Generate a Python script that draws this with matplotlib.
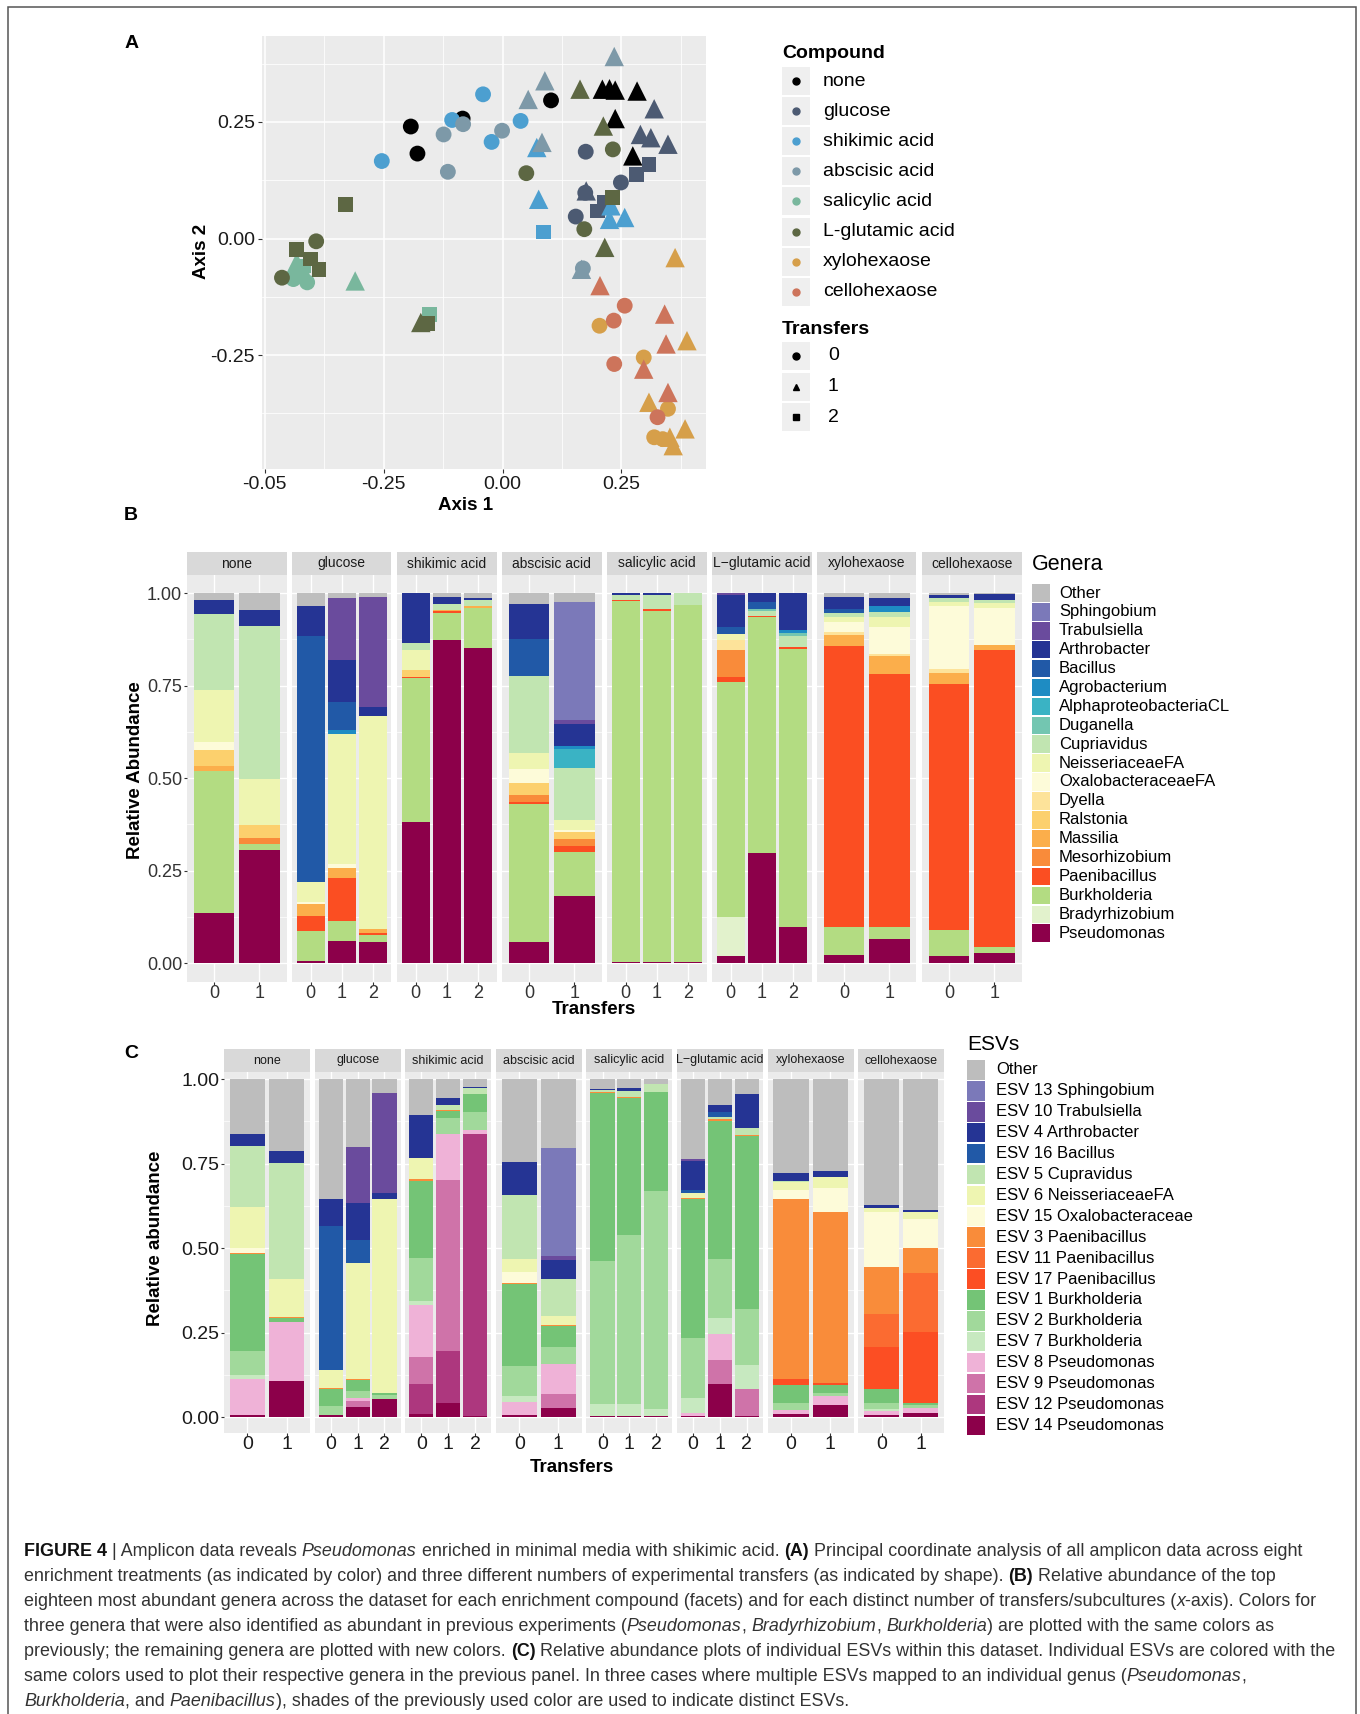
import matplotlib.pyplot as plt
from matplotlib.lines import Line2D
from matplotlib.patches import Rectangle

plt.rcParams["font.family"] = ["Liberation Sans", "DejaVu Sans"]

W, H = 1360, 1714
PANEL_BG = "#ebebeb"
STRIP_BG = "#d9d9d9"

COMPOUNDS = ["none", "glucose", "shikimic acid", "abscisic acid",
             "salicylic acid", "L-glutamic acid", "xylohexaose", "cellohexaose"]
STRIP_NAMES = ["none", "glucose", "shikimic acid", "abscisic acid",
               "salicylic acid", "L\u2212glutamic acid", "xylohexaose", "cellohexaose"]
COMPOUND_COLORS = ["#000000", "#4c5a72", "#4c9fd0", "#7d99a8",
                   "#79b79d", "#5d6743", "#d69f4a", "#cd745b"]
TRANSFER_LEVELS = ["0", "1", "2"]

# ---- panel A: PCoA points (axis 1, axis 2, transfers)
PCOA_NONE = [(0.102, 0.296, 0), (-0.193, 0.240, 0), (-0.179, 0.182, 0), (-0.084, 0.257, 0),
             (0.210, 0.320, 1), (0.225, 0.321, 1), (0.237, 0.318, 1), (0.283, 0.316, 1),
             (0.237, 0.257, 1), (0.274, 0.177, 1)]
PCOA_GLUCOSE = [(0.175, 0.186, 0), (0.249, 0.120, 0), (0.154, 0.047, 0), (0.174, 0.098, 0),
                (0.319, 0.278, 1), (0.290, 0.223, 1), (0.312, 0.216, 1), (0.348, 0.202, 1),
                (0.176, 0.102, 1), (0.281, 0.138, 2), (0.308, 0.159, 2), (0.199, 0.059, 2),
                (0.214, 0.077, 2)]
PCOA_SHIKIMIC = [(-0.041, 0.309, 0), (-0.106, 0.254, 0), (-0.023, 0.207, 0), (-0.254, 0.166, 0),
                 (0.038, 0.252, 0), (0.072, 0.195, 1), (0.076, 0.084, 1), (0.228, 0.070, 1),
                 (0.225, 0.041, 1), (0.257, 0.045, 1), (0.086, 0.014, 2)]
PCOA_ABSCISIC = [(-0.124, 0.223, 0), (-0.001, 0.231, 0), (-0.115, 0.143, 0), (-0.083, 0.245, 0),
                 (0.169, -0.064, 0), (0.235, 0.390, 1), (0.089, 0.338, 1), (0.054, 0.298, 1),
                 (0.083, 0.206, 1), (0.166, -0.066, 1)]
PCOA_SALICYLIC = [(-0.440, -0.087, 0), (-0.411, -0.094, 0), (-0.422, -0.080, 0),
                  (-0.433, -0.051, 1), (-0.444, -0.076, 1), (-0.310, -0.091, 1),
                  (-0.153, -0.162, 2), (-0.419, -0.059, 2)]
PCOA_GLUTAMIC = [(0.232, 0.191, 0), (0.050, 0.140, 0), (0.172, 0.020, 0), (-0.392, -0.006, 0),
                 (-0.464, -0.084, 0), (0.163, 0.320, 1), (0.212, 0.241, 1), (0.215, -0.019, 1),
                 (-0.172, -0.180, 1), (-0.331, 0.072, 2), (0.232, 0.088, 2), (-0.433, -0.023, 2),
                 (-0.386, -0.066, 2), (-0.404, -0.044, 2), (-0.158, -0.183, 2)]
PCOA_XYLO = [(0.204, -0.187, 0), (0.297, -0.255, 0), (0.348, -0.365, 0), (0.319, -0.426, 0),
             (0.337, -0.430, 0), (0.363, -0.041, 1), (0.388, -0.219, 1), (0.308, -0.351, 1),
             (0.384, -0.408, 1), (0.359, -0.444, 1), (0.352, -0.426, 1)]
PCOA_CELLO = [(0.257, -0.144, 0), (0.234, -0.176, 0), (0.235, -0.269, 0), (0.326, -0.383, 0),
              (0.205, -0.101, 1), (0.341, -0.162, 1), (0.344, -0.226, 1), (0.297, -0.280, 1),
              (0.348, -0.330, 1)]
PCOA = [PCOA_NONE, PCOA_GLUCOSE, PCOA_SHIKIMIC, PCOA_ABSCISIC,
        PCOA_SALICYLIC, PCOA_GLUTAMIC, PCOA_XYLO, PCOA_CELLO]

# ---- panel B: genera, stacked bottom -> top
GENERA = ["Pseudomonas", "Bradyrhizobium", "Burkholderia", "Paenibacillus", "Mesorhizobium",
          "Massilia", "Ralstonia", "Dyella", "OxalobacteraceaeFA", "NeisseriaceaeFA",
          "Cupriavidus", "Duganella", "AlphaproteobacteriaCL", "Agrobacterium", "Bacillus",
          "Arthrobacter", "Trabulsiella", "Sphingobium", "Other"]
GENUS_COLORS = ["#8c004a", "#e2f2cc", "#b3dc82", "#fb4e22", "#f98b3a",
                "#fbae4b", "#fcd06d", "#fde39a", "#fdfbd9", "#eef5b1",
                "#c1e5b1", "#73c6b1", "#3ab3c4", "#1e8cc3", "#2159a7",
                "#253494", "#6a4b9d", "#7b79b9", "#bebebe"]

# one row per transfer, values in GENERA order
GEN_NONE = [[.136, 0, .383, 0, 0, .015, .042, 0, .022, .140, .206, 0, 0, 0, 0, .038, 0, 0, .018],
            [.305, 0, .016, 0, .017, 0, .035, 0, 0, .126, .413, 0, 0, 0, 0, .043, 0, 0, .045]]
GEN_GLUCOSE = [[.005, 0, .083, .039, 0, .034, 0, 0, .004, .054, 0, 0, 0, 0, .664, .083, 0, 0, .034],
               [.060, 0, .053, .118, 0, .027, 0, 0, .011, .349, 0, 0, 0, .012, .075, .114, .167, 0, .014],
               [.057, 0, .018, .006, 0, .012, 0, 0, 0, .576, 0, 0, 0, 0, 0, .022, .298, 0, .011]]
GEN_SHIKIMIC = [[.382, 0, .388, .004, 0, 0, .018, 0, 0, .055, .019, 0, 0, 0, 0, .134, 0, 0, 0],
                [.872, 0, .074, .006, 0, .003, 0, 0, 0, 0, .015, 0, 0, 0, 0, .019, 0, 0, .011],
                [.851, 0, .110, 0, 0, .003, 0, 0, 0, 0, .018, 0, 0, 0, 0, .006, 0, 0, .012]]
GEN_ABSCISIC = [[.057, 0, .374, .005, .018, 0, .034, 0, .038, .041, .210, 0, 0, 0, .098, .096, 0, 0, .029],
                [.181, 0, .120, .016, .018, 0, .020, 0, .006, .025, .142, 0, .051, .009, 0, .057, .012, .320, .023]]
GEN_SALICYLIC = [[.002, 0, .977, .003, 0, 0, 0, 0, 0, 0, .013, 0, 0, 0, 0, .005, 0, 0, 0],
                 [.004, 0, .949, .004, 0, 0, 0, 0, 0, 0, .039, 0, 0, 0, 0, .004, 0, 0, 0],
                 [.002, 0, .966, 0, 0, 0, 0, 0, 0, 0, .032, 0, 0, 0, 0, 0, 0, 0, 0]]
GEN_GLUTAMIC = [[.018, .107, .636, .012, .074, 0, 0, .027, 0, .015, 0, 0, 0, 0, .019, .087, .005, 0, 0],
                [.299, 0, .636, .004, 0, 0, 0, 0, 0, 0, .012, .007, 0, 0, .017, .025, 0, 0, 0],
                [.099, 0, .750, .005, 0, 0, 0, 0, 0, 0, .029, .009, 0, .008, 0, .100, 0, 0, 0]]
GEN_XYLO = [[.023, 0, .076, .758, 0, .030, 0, .007, .027, .014, .011, 0, 0, 0, .012, .031, 0, 0, .011],
            [.066, 0, .033, .683, 0, .047, 0, .007, .072, .027, .015, 0, 0, .014, 0, .024, 0, 0, .012]]
GEN_CELLO = [[.018, 0, .072, .665, 0, .030, 0, .010, .169, .013, .009, 0, 0, 0, 0, .009, 0, 0, .005],
             [.028, 0, .015, .804, 0, .013, 0, 0, .099, .014, .009, 0, 0, 0, 0, .016, 0, 0, .002]]
GEN_ALL = [GEN_NONE, GEN_GLUCOSE, GEN_SHIKIMIC, GEN_ABSCISIC,
           GEN_SALICYLIC, GEN_GLUTAMIC, GEN_XYLO, GEN_CELLO]

# ---- panel C: ESVs, stacked bottom -> top
ESVS = ["ESV 14 Pseudomonas", "ESV 12 Pseudomonas", "ESV 9 Pseudomonas", "ESV 8 Pseudomonas",
        "ESV 7 Burkholderia", "ESV 2 Burkholderia", "ESV 1 Burkholderia",
        "ESV 17 Paenibacillus", "ESV 11 Paenibacillus", "ESV 3 Paenibacillus",
        "ESV 15 Oxalobacteraceae", "ESV 6 NeisseriaceaeFA", "ESV 5 Cupravidus",
        "ESV 16 Bacillus", "ESV 4 Arthrobacter", "ESV 10 Trabulsiella",
        "ESV 13 Sphingobium", "Other"]
ESV_COLORS = ["#8c004a", "#ad377e", "#cf73a9", "#efb2d7",
              "#c7e9c0", "#a1d99b", "#74c476",
              "#fc4e23", "#fb6b31", "#f98c3a",
              "#fdfbd9", "#eef5b1", "#c1e5b1",
              "#2159a7", "#253494", "#6a4b9d",
              "#7b79b9", "#bdbdbd"]

ESV_NONE = [[.005, 0, 0, .109, .010, .071, .289, 0, 0, .003, .014, .122, .180, 0, .034, 0, 0, .163],
            [.107, 0, 0, .173, 0, 0, .013, 0, 0, .004, 0, .113, .341, 0, .035, 0, 0, .214]]
ESV_GLUCOSE = [[.005, 0, 0, 0, 0, .028, .051, 0, 0, .003, 0, .051, 0, .428, .079, 0, 0, .355],
               [.030, 0, .017, .009, 0, .021, .032, 0, 0, .003, 0, .345, 0, .067, .108, .168, 0, .200],
               [.054, 0, 0, 0, 0, .010, .008, 0, 0, 0, 0, .572, 0, 0, .018, .298, 0, .040]]
ESV_SHIKIMIC = [[.008, .091, .079, .155, .011, .127, .229, 0, 0, .003, 0, .065, 0, 0, .126, 0, 0, .106],
                [.042, .153, .507, .135, 0, .047, .022, 0, 0, .003, 0, 0, .015, 0, .020, 0, 0, .056],
                [.002, .836, 0, .012, 0, .052, .055, 0, 0, 0, 0, 0, .016, 0, .005, 0, 0, .022]]
ESV_ABSCISIC = [[.005, 0, 0, .039, .017, .090, .244, 0, 0, .003, .032, .039, .188, 0, .099, 0, 0, .244],
                [.028, 0, .039, .091, 0, .048, .063, 0, 0, .003, 0, .026, .112, 0, .054, .013, .318, .205]]
ESV_SALICYLIC = [[.004, 0, 0, 0, .036, .422, .498, 0, 0, .003, 0, 0, .005, 0, .004, 0, 0, .028],
                 [.004, 0, 0, 0, .036, .499, .405, 0, 0, .003, 0, 0, .018, 0, .008, 0, 0, .027],
                 [.003, 0, 0, 0, .022, .645, .291, 0, 0, .002, 0, 0, .023, 0, 0, 0, 0, .014]]
ESV_GLUTAMIC = [[.003, 0, 0, .010, .043, .179, .410, 0, 0, .003, 0, .014, 0, .010, .086, .006, 0, .236],
                [.099, 0, .069, .079, .045, .177, .408, 0, 0, .004, 0, 0, .008, .013, .022, 0, 0, .076],
                [.003, 0, .081, 0, .069, .168, .512, 0, 0, .003, 0, 0, .019, 0, .100, 0, 0, .045]]
ESV_XYLO = [[.008, 0, 0, .012, 0, .022, .052, .020, 0, .530, .028, .025, .003, 0, .021, 0, 0, .279],
            [.035, 0, 0, .028, 0, .009, .023, .007, 0, .505, .071, .031, 0, 0, .020, 0, 0, .271]]
ESV_CELLO = [[.005, 0, 0, .012, .008, .017, .042, .124, .096, .139, .163, .014, 0, 0, .007, 0, 0, .373],
             [.012, 0, 0, .015, 0, .008, .007, .210, .175, .072, .087, .020, 0, 0, .007, 0, 0, .387]]
ESV_ALL = [ESV_NONE, ESV_GLUCOSE, ESV_SHIKIMIC, ESV_ABSCISIC,
           ESV_SALICYLIC, ESV_GLUTAMIC, ESV_XYLO, ESV_CELLO]

CAPTION = [
    [("FIGURE 4", "bold"), (" | Amplicon data reveals ", "normal"), ("Pseudomonas", "italic"),
     (" enriched in minimal media with shikimic acid. ", "normal"), ("(A)", "bold"),
     (" Principal coordinate analysis of all amplicon data across eight", "normal")],
    [("enrichment treatments (as indicated by color) and three different numbers of experimental "
      "transfers (as indicated by shape). ", "normal"), ("(B)", "bold"),
     (" Relative abundance of the top", "normal")],
    [("eighteen most abundant genera across the dataset for each enrichment compound (facets) and "
      "for each distinct number of transfers/subcultures (", "normal"), ("x", "italic"),
     ("-axis). Colors for", "normal")],
    [("three genera that were also identified as abundant in previous experiments (", "normal"),
     ("Pseudomonas", "italic"), (", ", "normal"), ("Bradyrhizobium", "italic"), (", ", "normal"),
     ("Burkholderia", "italic"), (") are plotted with the same colors as", "normal")],
    [("previously; the remaining genera are plotted with new colors. ", "normal"), ("(C)", "bold"),
     (" Relative abundance plots of individual ESVs within this dataset. Individual ESVs are "
      "colored with the", "normal")],
    [("same colors used to plot their respective genera in the previous panel. In three cases where "
      "multiple ESVs mapped to an individual genus (", "normal"), ("Pseudomonas", "italic"),
     (",", "normal")],
    [("Burkholderia", "italic"), (", and ", "normal"), ("Paenibacillus", "italic"),
     ("), shades of the previously used color are used to indicate distinct ESVs.", "normal")],
]


def fx(x):
    return x / W


def fy(y):
    return 1 - y / H


def fbox(left, top, right, bottom):
    return [left / W, 1 - bottom / H, (right - left) / W, (bottom - top) / H]


def ftext(x, y, s, **kw):
    return fig.text(fx(x), fy(y), s, **kw)


def key_box(x, yc, w, h, color):
    fig.add_artist(Rectangle((fx(x), fy(yc + h / 2)), w / W, h / H, transform=fig.transFigure,
                             facecolor=color, edgecolor="none"))


fig = plt.figure(figsize=(W / 100, H / 100), dpi=100)
fig.patch.set_facecolor("white")

# outer frame
fig.add_artist(Rectangle((fx(8), fy(1740)), (1356 - 8) / W, (1740 - 7) / H, transform=fig.transFigure,
                         fill=False, edgecolor="#555555", lw=1.1))

# ================= panel A
ax = fig.add_axes(fbox(262, 36, 706, 469))
ax.set_facecolor(PANEL_BG)
shapes = {0: ("o", 130), 1: ("^", 195), 2: ("s", 115)}
for pts, col in zip(PCOA, COMPOUND_COLORS):
    for t, (m, s) in shapes.items():
        xs = [p[0] for p in pts if p[2] == t]
        ys = [p[1] for p in pts if p[2] == t]
        ax.scatter(xs, ys, marker=m, s=s, color=col, edgecolors="none", zorder=3)
ax.set_xlim(-0.506, 0.428)
ax.set_ylim(-0.494, 0.434)
ax.set_xticks([-0.5, -0.25, 0, 0.25], ["-0.05", "-0.25", "0.00", "0.25"])
ax.set_yticks([-0.25, 0, 0.25], ["-0.25", "0.00", "0.25"])
ax.set_xticks([-0.375, -0.125, 0.125, 0.375], minor=True)
ax.set_yticks([-0.375, -0.125, 0.125, 0.375], minor=True)
ax.grid(which="major", color="white", lw=1.1)
ax.grid(which="minor", color="white", lw=0.55)
ax.set_axisbelow(True)
for sp in ax.spines.values():
    sp.set_visible(False)
ax.tick_params(which="major", length=3, width=0.8, color="#333333", labelsize=14,
               labelcolor="#1a1a1a", pad=2)
ax.tick_params(which="minor", length=0)
ftext(466, 506, "Axis 1", fontsize=13.5, fontweight="bold", ha="center", va="center")
ftext(201, 251, "Axis 2", fontsize=13.5, fontweight="bold", ha="center", va="center", rotation=90)

# legend A
ftext(782, 53, "Compound", fontsize=14, fontweight="bold", va="center")
for i, (name, col) in enumerate(zip(COMPOUNDS, COMPOUND_COLORS)):
    yc = 81 + 30.1 * i
    key_box(782, yc, 28, 28, "#efefef")
    fig.add_artist(Line2D([fx(796)], [fy(yc)], marker="o", ms=5, color=col, ls="none",
                          transform=fig.transFigure))
    ftext(823, yc, name, fontsize=14, va="center")
ftext(782, 329, "Transfers", fontsize=14, fontweight="bold", va="center")
for i, (lvl, m) in enumerate(zip(TRANSFER_LEVELS, ["o", "^", "s"])):
    yc = 356 + 30.5 * i
    key_box(782, yc, 28, 28, "#efefef")
    fig.add_artist(Line2D([fx(796)], [fy(yc)], marker=m, ms=5, color="black", ls="none",
                          transform=fig.transFigure))
    ftext(828, yc, lvl, fontsize=14, va="center")


# ================= facetted stacked bars
def facet_bars(data, colors, lefts, width, strip_top, strip_bot, panel_bot, ylim,
               tick_size, strip_size, tick_color):
    for i, (name, rows) in enumerate(zip(STRIP_NAMES, data)):
        left = lefts[i]
        a = fig.add_axes(fbox(left, strip_bot, left + width, panel_bot))
        a.set_facecolor(PANEL_BG)
        xs = list(range(len(rows)))
        bottoms = [0.0] * len(rows)
        for k, col in enumerate(colors):
            vals = [r[k] for r in rows]
            a.bar(xs, vals, width=0.9, bottom=bottoms, color=col, linewidth=0, zorder=2)
            bottoms = [b + v for b, v in zip(bottoms, vals)]
        a.set_xlim(-0.6, len(rows) - 0.4)
        a.set_ylim(*ylim)
        a.set_xticks(xs, TRANSFER_LEVELS[:len(rows)])
        a.set_yticks([0, 0.25, 0.5, 0.75, 1.0], ["0.00", "0.25", "0.50", "0.75", "1.00"])
        a.set_yticks([0.125, 0.375, 0.625, 0.875], minor=True)
        a.grid(which="major", color="white", lw=1.0)
        a.grid(which="minor", axis="y", color="white", lw=0.5)
        a.set_axisbelow(True)
        for sp in a.spines.values():
            sp.set_visible(False)
        a.tick_params(which="major", length=2.5, width=0.8, color="#333333", labelsize=tick_size,
                      labelcolor=tick_color, pad=1)
        a.tick_params(axis="x", pad=0)
        a.tick_params(which="minor", length=0)
        if i > 0:
            a.tick_params(axis="y", length=0, labelleft=False)
        s = fig.add_axes(fbox(left, strip_top, left + width, strip_bot))
        s.set_facecolor(STRIP_BG)
        s.set_xticks([])
        s.set_yticks([])
        for sp in s.spines.values():
            sp.set_visible(False)
        s.text(0.5, 0.5, name, transform=s.transAxes, ha="center", va="center",
               fontsize=strip_size, color="#1a1a1a")


# ================= panel B
facet_bars(GEN_ALL, GENUS_COLORS, [187 + 105 * i for i in range(8)], 99.5,
           552, 575, 982, (-0.051, 1.049), 13, 10, "#333333")
ftext(135, 770, "Relative Abundance", fontsize=13.5, fontweight="bold", ha="center", va="center",
      rotation=90)
ftext(594, 1010, "Transfers", fontsize=13.5, fontweight="bold", ha="center", va="center")
ftext(1032, 565, "Genera", fontsize=15.5, va="center")
for i, (name, col) in enumerate(zip(GENERA[::-1], GENUS_COLORS[::-1])):
    yc = 593 + 18.9 * i
    key_box(1032, yc, 18, 17.5, col)
    ftext(1059, yc, name, fontsize=12, va="center")

# ================= panel C
facet_bars(ESV_ALL, ESV_COLORS, [224 + 90.6 * i for i in range(8)], 86,
           1049, 1072, 1433, (-0.047, 1.021), 14, 9, "#1a1a1a")
ftext(155, 1238, "Relative abundance", fontsize=13.5, fontweight="bold", ha="center", va="center",
      rotation=90)
ftext(572, 1467, "Transfers", fontsize=13.5, fontweight="bold", ha="center", va="center")
ftext(967, 1045, "ESVs", fontsize=15, va="center")
for i, (name, col) in enumerate(zip(ESVS[::-1], ESV_COLORS[::-1])):
    yc = 1070 + 20.9 * i
    key_box(967, yc, 18, 19.5, col)
    ftext(996, yc, name, fontsize=12, va="center")

# panel letters
for letter, (x, y) in zip("ABC", [(132, 44), (131, 516), (131, 1053)]):
    ftext(x, y, letter, fontsize=14, fontweight="bold", ha="center", va="center")

# ================= caption
STYLE = {"normal": {}, "bold": {"fontweight": "bold"}, "italic": {"fontstyle": "italic"}}
renderer = fig.canvas.get_renderer()


def text_width(s, size, style):
    t = fig.text(0, 0, s, fontsize=size, **STYLE[style])
    w = t.get_window_extent(renderer).width
    t.remove()
    return w


def space_width(size, style):
    return text_width("n n", size, style) - text_width("nn", size, style)


def line_width(runs, size):
    total = 0
    for s, st in runs:
        core = s.strip(" ")
        total += text_width(core, size, st) + (len(s) - len(core)) * space_width(size, st)
    return total


cap_size = 11 * 1310 / line_width(CAPTION[4], 11)
for li, runs in enumerate(CAPTION):
    x = 24
    y = 1550 + 24.9 * li
    for s, st in runs:
        core = s.strip(" ")
        lead = len(s) - len(s.lstrip(" "))
        trail = len(s) - len(s.rstrip(" "))
        sw = space_width(cap_size, st)
        x += lead * sw
        col = "#111111" if st == "bold" else "#333333"
        t = ftext(x, y, core, fontsize=cap_size, color=col, va="center_baseline", **STYLE[st])
        x += t.get_window_extent(renderer).width + trail * sw

fig.savefig("out.png", dpi=100)
